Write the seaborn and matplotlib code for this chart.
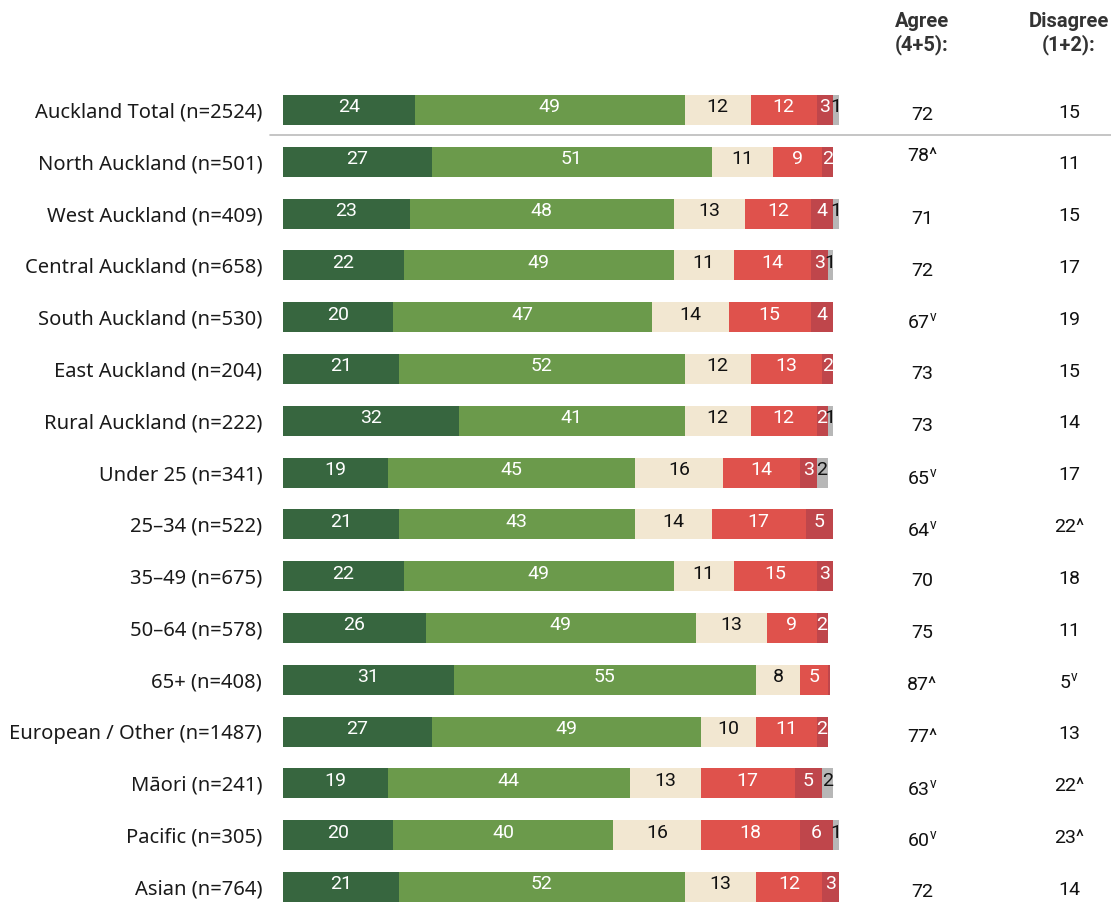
import numpy as np
import pandas as pd
import seaborn as sns
import matplotlib.pyplot as plt

groups = ["Auckland Total (n=2524)", "North Auckland (n=501)", "West Auckland (n=409)",
          "Central Auckland (n=658)", "South Auckland (n=530)", "East Auckland (n=204)",
          "Rural Auckland (n=222)", "Under 25 (n=341)", "25\u201334 (n=522)",
          "35\u201349 (n=675)", "50\u201364 (n=578)", "65+ (n=408)",
          "European / Other (n=1487)", "M\u0101ori (n=241)", "Pacific (n=305)", "Asian (n=764)"]

strongly_agree = [24, 27, 23, 22, 20, 21, 32, 19, 21, 22, 26, 31, 27, 19, 20, 21]
agree = [49, 51, 48, 49, 47, 52, 41, 45, 43, 49, 49, 55, 49, 44, 40, 52]
neutral = [12, 11, 13, 11, 14, 12, 12, 16, 14, 11, 13, 8, 10, 13, 16, 13]
disagree = [12, 9, 12, 14, 15, 13, 12, 14, 17, 15, 9, 5, 11, 17, 18, 12]
strongly_disagree = [3, 2, 4, 3, 4, 2, 2, 3, 5, 3, 2, 0.4, 2, 5, 6, 3]
dont_know = [1, 0, 1, 1, 0, 0, 1, 2, 0, 0, 0, 0, 0, 2, 1, 0]

agree_net = ["72", "78^", "71", "72", "67v", "73", "73", "65v", "64v", "70", "75", "87^",
             "77^", "63v", "60v", "72"]
disagree_net = ["15", "11", "15", "17", "19", "15", "14", "17", "22^", "18", "11", "5v",
                "13", "22^", "23^", "14"]

series = [strongly_agree, agree, neutral, disagree, strongly_disagree, dont_know]
colors = ["#37663f", "#6b9a4b", "#f2e7d1", "#df524c", "#bf464b", "#b7b7b7"]
text_colors = ["white", "white", "#111111", "white", "white", "#111111"]

sns.set_style("white")
plt.rcParams["font.family"] = ["Roboto", "DejaVu Sans"]

fig = plt.figure(figsize=(11.11, 9.02), dpi=100)
ax = fig.add_axes([283 / 1111, 0, 1 - 283 / 1111, 1])

df = pd.DataFrame({"group": groups})
vals = np.array(series, dtype=float)
cum = np.cumsum(vals, axis=0)
for i in range(len(series) - 1, -1, -1):
    df["v"] = cum[i]
    sns.barplot(data=df, x="v", y="group", orient="h", color=colors[i], width=0.58,
                saturation=1, linewidth=0, ax=ax)

# segment labels
for i in range(len(series)):
    for r in range(len(groups)):
        v = vals[i, r]
        if v >= 1:
            xc = cum[i, r] - v / 2
            ax.text(xc, r - 0.05, f"{v:g}", ha="center", va="center", fontsize=14,
                    color=text_colors[i])

px = 5.5
xmax = (1111 - 283) / px
ax.set_xlim(0, xmax)
ax.set_ylim((902 - 110) / 51.8, -110 / 51.8)
ax.set_xlabel("")
ax.set_ylabel("")
ax.set_xticks([])
ax.tick_params(axis="y", length=0, pad=15, labelcolor="#1a1a1a")
for lab in ax.get_yticklabels():
    lab.set_family(["Noto Sans", "DejaVu Sans"])
    lab.set_fontsize(14.5)
for s in ax.spines.values():
    s.set_visible(False)

x_agree = (922 - 283) / px
x_dis = (1069 - 283) / px


def fmt(s):
    if s.endswith("v"):
        return r"$\mathregular{" + s[:-1] + r"^{v}}$"
    return s


for r in range(len(groups)):
    a = agree_net[r]
    d = disagree_net[r]
    dy_a = 0.1
    if r == 1:
        dy_a = -0.12
    ax.text(x_agree, r + dy_a, fmt(a), ha="center", va="center", fontsize=14, color="#111111")
    ax.text(x_dis, r + 0.05, fmt(d), ha="center", va="center", fontsize=14, color="#111111")

hdr = dict(ha="center", va="center", fontsize=14.5, fontweight="bold", color="#333333")
ax.text(x_agree, -1.7, "Agree", **hdr)
ax.text(x_agree, -1.26, "(4+5):", **hdr)
ax.text(x_dis, -1.7, "Disagree", **hdr)
ax.text(x_dis, -1.26, "(1+2):", **hdr)

ax.plot([-13 / px, xmax], [0.48, 0.48], color="#bbbbbb", lw=1.2, clip_on=False)

fig.savefig("out.png", dpi=100)
